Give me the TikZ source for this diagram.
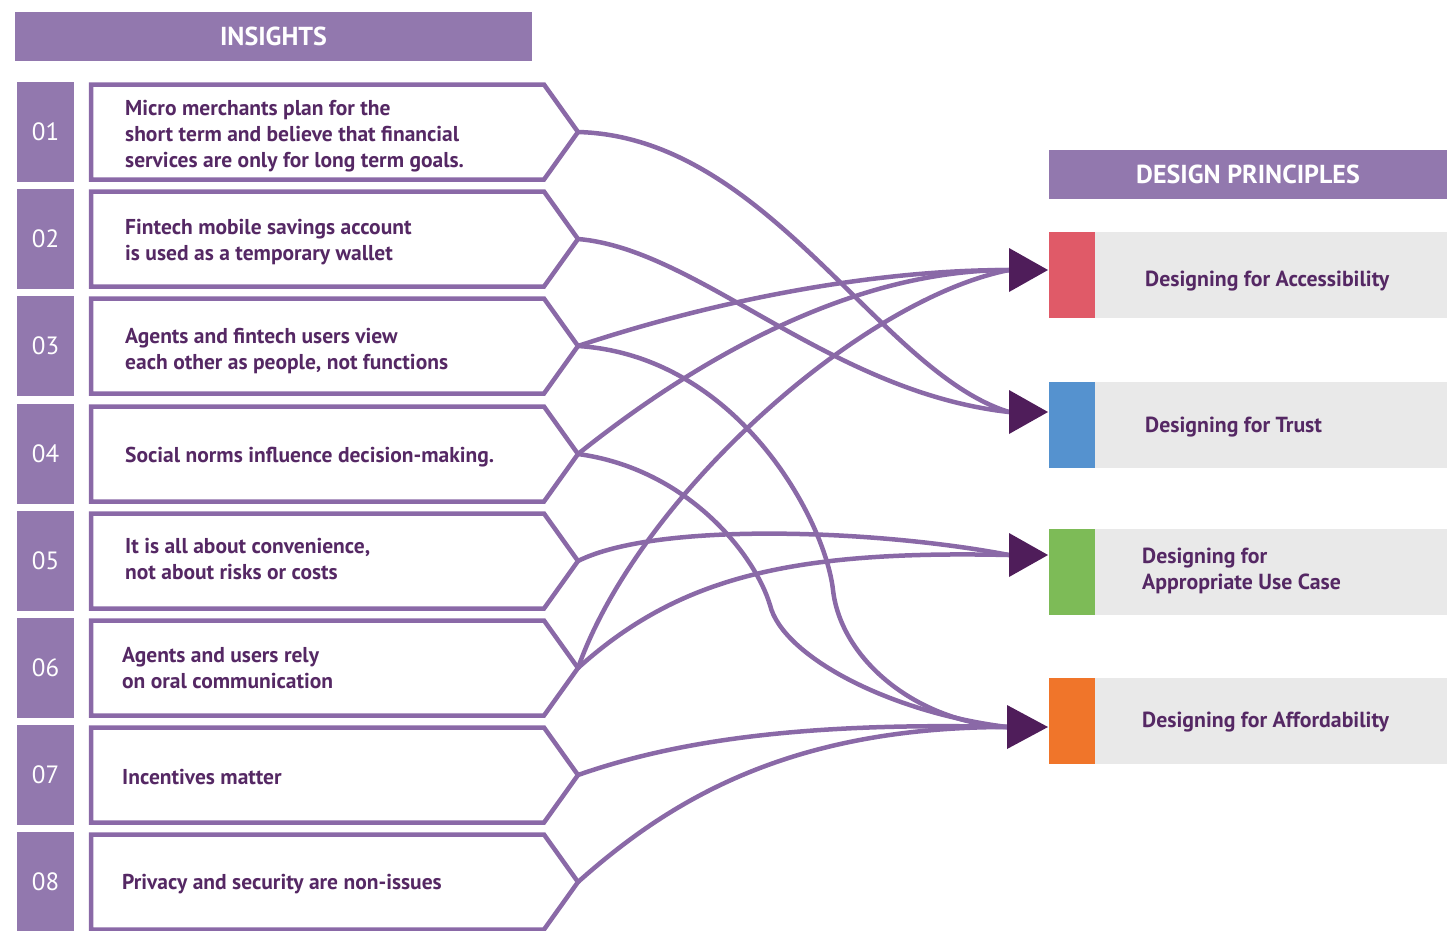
\documentclass[tikz,border=0pt]{standalone}
\usepackage{fontspec}
\setmainfont{PT Sans}
\usepackage{tikz}

\definecolor{lila}{HTML}{9278AE}
\definecolor{linea}{HTML}{8A69A7}
\definecolor{texto}{HTML}{552864}
\definecolor{oscuro}{HTML}{4F1D5A}
\definecolor{gris}{HTML}{E9E9E9}
\definecolor{rojo}{HTML}{E05A68}
\definecolor{azul}{HTML}{5592CF}
\definecolor{verde}{HTML}{7DBB57}
\definecolor{naranja}{HTML}{F0752A}

\begin{document}
\begin{tikzpicture}[x=1pt,y=-1pt, line cap=round,line join=round,
  header/.style={fill=lila, text=white, inner sep=0pt, font=\bfseries\fontsize{26}{30}\selectfont},
  numbox/.style={fill=lila, text=white, inner sep=0pt, minimum width=57pt, minimum height=100pt, font=\fontsize{25}{28}\selectfont},
  itext/.style={anchor=west, align=left, text=texto, inner sep=0pt, font=\bfseries\fontsize{21.5}{26}\selectfont},
  caja/.style={draw=linea, line width=4.5pt, line join=miter},
  enlace/.style={draw=linea, line width=4.5pt},
  flecha/.style={fill=oscuro},
  marca/.style={inner sep=0pt, minimum width=46pt, minimum height=86pt},
  fondo/.style={fill=gris, inner sep=0pt, minimum width=352pt, minimum height=86pt},
  ptext/.style={anchor=west, align=left, text=texto, inner sep=0pt, font=\bfseries\fontsize{21.8}{26}\selectfont}]

  \useasboundingbox (0,0) rectangle (1447,930);

  % Encabezados
  \node[header, minimum width=517pt, minimum height=49pt] (ins) at (273.5,36.5) {INSIGHTS};
  \node[header, minimum width=398pt, minimum height=49pt] (dp) at (1248,174.5) {DESIGN PRINCIPLES};

  % Numeros
  \node[numbox] (n1) at (45.5,132) {01};
  \node[numbox] (n2) at (45.5,239) {02};
  \node[numbox] (n3) at (45.5,346) {03};
  \node[numbox] (n4) at (45.5,454) {04};
  \node[numbox] (n5) at (45.5,561) {05};
  \node[numbox] (n6) at (45.5,668) {06};
  \node[numbox] (n7) at (45.5,775) {07};
  \node[numbox] (n8) at (45.5,882) {08};

  % Cajas de insights
  \draw[caja] (91,84.5) -- ++(453,0) -- ++(34,47.5) -- ++(-34,47.5) -- ++(-453,0) -- cycle;
  \draw[caja] (91,191.5) -- ++(453,0) -- ++(34,47.5) -- ++(-34,47.5) -- ++(-453,0) -- cycle;
  \draw[caja] (91,298.5) -- ++(453,0) -- ++(34,47.5) -- ++(-34,47.5) -- ++(-453,0) -- cycle;
  \draw[caja] (91,406.5) -- ++(453,0) -- ++(34,47.5) -- ++(-34,47.5) -- ++(-453,0) -- cycle;
  \draw[caja] (91,513.5) -- ++(453,0) -- ++(34,47.5) -- ++(-34,47.5) -- ++(-453,0) -- cycle;
  \draw[caja] (91,620.5) -- ++(453,0) -- ++(34,47.5) -- ++(-34,47.5) -- ++(-453,0) -- cycle;
  \draw[caja] (91,727.5) -- ++(453,0) -- ++(34,47.5) -- ++(-34,47.5) -- ++(-453,0) -- cycle;
  \draw[caja] (91,834.5) -- ++(453,0) -- ++(34,47.5) -- ++(-34,47.5) -- ++(-453,0) -- cycle;

  % Textos
  \node[itext] (i1) at (125,136) {Micro merchants plan for the\\short term and believe that financial\\services are only for long term goals.};
  \node[itext] (i2) at (125,242) {Fintech mobile savings account\\is used as a temporary wallet};
  \node[itext] (i3) at (125,351) {Agents and fintech users view\\each other as people, not functions};
  \node[itext] (i4) at (125,457) {Social norms influence decision-making.};
  \node[itext] (i5) at (125,559) {It is all about convenience,\\not about risks or costs};
  \node[itext] (i6) at (122,668) {Agents and users rely\\on oral communication};
  \node[itext] (i7) at (122,777) {Incentives matter};
  \node[itext] (i8) at (122,884) {Privacy and security are non-issues};

  % Puntas de las cajas
  \coordinate (s1) at (578,132);
  \coordinate (s2) at (578,239);
  \coordinate (s3) at (578,346);
  \coordinate (s4) at (578,454);
  \coordinate (s5) at (578,561);
  \coordinate (s6) at (578,668);
  \coordinate (s7) at (578,775);
  \coordinate (s8) at (578,882);

  % Principios
  \node[fondo] (g1) at (1271,275) {};
  \node[fondo] (g2) at (1271,425) {};
  \node[fondo] (g3) at (1271,572) {};
  \node[fondo] (g4) at (1271,721) {};
  \node[marca, fill=rojo] (c1) at (1072,275) {};
  \node[marca, fill=azul] (c2) at (1072,425) {};
  \node[marca, fill=verde] (c3) at (1072,572) {};
  \node[marca, fill=naranja] (c4) at (1072,721) {};
  \node[ptext] (p1) at (1145,281) {Designing for Accessibility};
  \node[ptext] (p2) at (1145,427) {Designing for Trust};
  \node[ptext] (p3) at (1142,571) {Designing for\\Appropriate Use Case};
  \node[ptext] (p4) at (1142,722) {Designing for Affordability};

  % Llegadas
  \coordinate (a1) at (1009,270);
  \coordinate (a2) at (1009,412);
  \coordinate (a3) at (1009,555);
  \coordinate (a4) at (1007,727);
  \coordinate (k3) at (833,590);
  \coordinate (k4) at (770,605);

  % Enlaces
  \draw[enlace] (s1) .. controls +(190,5) and +(-130,-40) .. (a2);
  \draw[enlace] (s2) .. controls +(120,10) and +(-180,-20) .. (a2);
  \draw[enlace] (s3) .. controls +(120,-40) and +(-150,0) .. (a1);
  \draw[enlace] (s3) .. controls +(160,10) and +(-8,-70) .. (k3) .. controls +(8,70) and +(-90,-5) .. (a4);
  \draw[enlace] (s4) .. controls +(110,15) and +(-15,-50) .. (k4) .. controls +(12,50) and +(-120,-15) .. (a4);
  \draw[enlace] (s4) .. controls +(100,-80) and +(-170,0) .. (a1);
  \draw[enlace] (s5) .. controls +(80,-40) and +(-130,-25) .. (a3);
  \draw[enlace] (s6) .. controls +(60,-170) and +(-150,30) .. (a1);
  \draw[enlace] (s6) .. controls +(100,-90) and +(-220,-5) .. (a3);
  \draw[enlace] (s7) .. controls +(100,-35) and +(-200,-5) .. (a4);
  \draw[enlace] (s8) .. controls +(90,-80) and +(-220,0) .. (a4);

  % Flechas
  \fill[flecha] (a1) ++(0,-22) -- ++(39,22) -- ++(-39,22) -- cycle;
  \fill[flecha] (a2) ++(0,-22) -- ++(39,22) -- ++(-39,22) -- cycle;
  \fill[flecha] (a3) ++(0,-22) -- ++(39,22) -- ++(-39,22) -- cycle;
  \fill[flecha] (a4) ++(0,-22) -- ++(41,22) -- ++(-41,22) -- cycle;
\end{tikzpicture}
\end{document}
